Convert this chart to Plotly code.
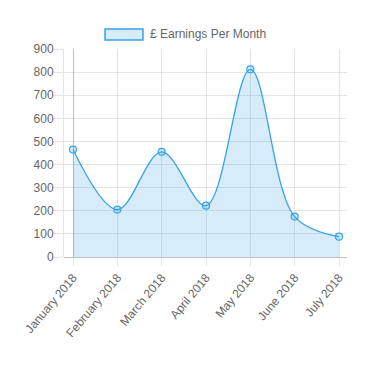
import plotly.graph_objects as go

months = ["January 2018", "February 2018", "March 2018", "April 2018",
          "May 2018", "June 2018", "July 2018"]
earnings = [465, 205, 455, 222, 812, 175, 88]
y_ticks = [0, 100, 200, 300, 400, 500, 600, 700, 800, 900]
series_name = "£ Earnings Per Month"

W, H = 375, 366
ml, mr, mt, mb = 64, 28, 49, 109

line_col = "rgb(54,162,235)"
fill_col = "rgba(54,162,235,0.2)"
grid_col = "rgba(0,0,0,0.1)"
zero_col = "rgba(0,0,0,0.25)"
font = dict(family="Liberation Sans, Arial, sans-serif", size=12, color="#666")

xpos = list(range(len(months)))

fig = go.Figure()
fig.add_trace(go.Scatter(
    x=xpos, y=earnings, name=series_name,
    mode="lines+markers",
    line=dict(color=line_col, width=1.3, shape="spline", smoothing=1.0),
    fill="tozeroy", fillcolor=fill_col,
    marker=dict(size=7, color=fill_col, line=dict(color=line_col, width=1.2)),
    showlegend=False,
))

# legend (Chart.js style box + label)
fig.add_shape(type="rect", xref="paper", yref="paper",
              x0=(105 - ml) / (W - ml - mr), x1=(143 - ml) / (W - ml - mr),
              y0=(H - mb - 40) / (H - mt - mb), y1=(H - mb - 29) / (H - mt - mb),
              fillcolor=fill_col, line=dict(color=line_col, width=1.5))
fig.add_annotation(xref="paper", yref="paper",
                   x=(148 - ml) / (W - ml - mr), y=(H - mb - 34.5) / (H - mt - mb),
                   text=series_name, showarrow=False, xanchor="left", yanchor="middle",
                   font=font)

fig.update_layout(
    width=W, height=H,
    margin=dict(l=ml, r=mr, t=mt, b=mb, pad=0),
    paper_bgcolor="white", plot_bgcolor="white",
    font=font,
    xaxis=dict(
        range=[-0.203, 6.18],
        tickvals=xpos, ticktext=months, tickangle=-50,
        showgrid=True, gridcolor=grid_col, gridwidth=1,
        zeroline=True, zerolinecolor=zero_col, zerolinewidth=1,
        ticks="outside", ticklen=8, tickcolor=grid_col,
        showline=False, tickfont=font,
    ),
    yaxis=dict(
        range=[0, 900],
        tickvals=y_ticks,
        showgrid=True, gridcolor=grid_col, gridwidth=1,
        zeroline=True, zerolinecolor=zero_col, zerolinewidth=1,
        ticks="outside", ticklen=10, tickcolor=grid_col,
        showline=True, linecolor=grid_col, linewidth=1,
        tickfont=font, ticklabelstandoff=-3,
    ),
)

fig.write_html("out.html")
